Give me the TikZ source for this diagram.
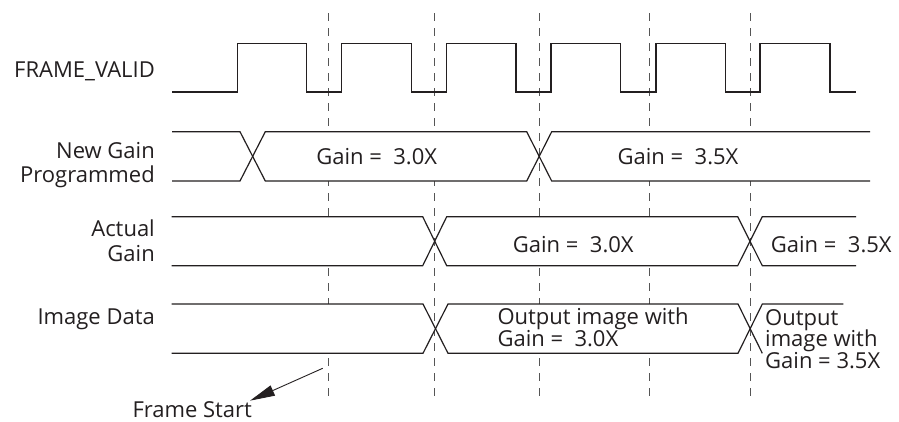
\documentclass[tikz,border=0pt]{standalone}
\usepackage{fontspec}
\setmainfont{Open Sans}
\usetikzlibrary{arrows.meta}
\definecolor{ink}{HTML}{231F20}
\definecolor{dash}{HTML}{555555}
\begin{document}
\begin{tikzpicture}[x=1pt,y=-1pt,
  sig/.style={draw=ink,line width=1.2pt,line join=miter},
  busfill/.style={fill=white,draw=none},
  grid/.style={draw=dash,line width=0.9pt,dash pattern=on 8pt off 7pt},
  lbl/.style={inner sep=0pt,font=\fontsize{22}{26}\selectfont,text=ink}]
\useasboundingbox (0,0) rectangle (899,421);
% dashed frame markers
\foreach \x/\n in {328.3/a,434.7/b,539/c,649.3/d,750/e}{
  \coordinate (t\n) at (\x,13.3);
  \coordinate (b\n) at (\x,399);
  \draw[grid] (t\n) -- (b\n);
}
% FRAME_VALID
\draw[sig] (172,92) -- (237.3,92) -- (237.3,43.3) -- (306.7,43.3) -- (306.7,92)
  -- (341.7,92) -- (341.7,43.3) -- (411.7,43.3) -- (411.7,92)
  -- (446.7,92) -- (446.7,43.3) -- (516,43.3) -- (516,92)
  -- (551,92) -- (551,43.3) -- (620.7,43.3) -- (620.7,92)
  -- (656,92) -- (656,43.3) -- (725.3,43.3) -- (725.3,92)
  -- (760,92) -- (760,43.3) -- (830,43.3) -- (830,92) -- (856,92);
% New Gain Programmed bus
\fill[busfill] (252.7,156.35) -- (265.3,131.7) -- (526.7,131.7) -- (539,156.35) -- (526.7,181) -- (265.3,181) -- cycle;
\fill[busfill] (539,156.35) -- (551.7,131.7) -- (870,131.7) -- (870,181) -- (551.7,181) -- cycle;
\draw[sig] (172,131.7) -- (240,131.7) -- (265.3,181) -- (526.7,181) -- (551.7,131.7) -- (870,131.7);
\draw[sig] (172,181) -- (240,181) -- (265.3,131.7) -- (526.7,131.7) -- (551.7,181) -- (870,181);
% Actual Gain bus
\fill[busfill] (171.7,216.7) -- (422.7,216.7) -- (434.7,241.2) -- (422.7,265.7) -- (171.7,265.7) -- cycle;
\fill[busfill] (434.7,241.2) -- (446.7,216.7) -- (737.7,216.7) -- (750,241.2) -- (737.7,265.7) -- (446.7,265.7) -- cycle;
\fill[busfill] (750,241.2) -- (762.3,216.7) -- (856,216.7) -- (856,265.7) -- (762.3,265.7) -- cycle;
\draw[sig] (171.7,216.7) -- (422.7,216.7) -- (446.7,265.7) -- (737.7,265.7) -- (762.3,216.7) -- (856,216.7);
\draw[sig] (171.7,265.7) -- (422.7,265.7) -- (446.7,216.7) -- (737.7,216.7) -- (762.3,265.7) -- (856,265.7);
% Image Data bus
\fill[busfill] (171.7,304) -- (423,304) -- (435.5,328.65) -- (423,353.3) -- (171.7,353.3) -- cycle;
\fill[busfill] (435.5,328.65) -- (448,304) -- (738,304) -- (750,328.65) -- (738,353.3) -- (448,353.3) -- cycle;
\fill[busfill] (750,328.65) -- (762.3,304) -- (843.3,304) -- (843.3,353.3) -- (762.3,353.3) -- cycle;
\draw[sig] (171.7,304) -- (423,304) -- (448,353.3) -- (738,353.3) -- (762.3,304) -- (843.3,304);
\draw[sig] (171.7,353.3) -- (423,353.3) -- (448,304) -- (738,304) -- (762.3,353.3);
% signal labels
\node[lbl,anchor=base east] (fv) at (155,77.3) {FRAME\_VALID};
\node[lbl,anchor=base east] (ng1) at (155,158.3) {New Gain};
\node[lbl,anchor=base east] (ng2) at (155,182.3) {Programmed};
\node[lbl,anchor=base east] (ag1) at (155,236) {Actual};
\node[lbl,anchor=base east] (ag2) at (155,261) {Gain};
\node[lbl,anchor=base east] (id) at (155,324.3) {Image Data};
% bus values
\node[lbl,anchor=base] (g1) at (376.7,164.3) {Gain =\ \ 3.0X};
\node[lbl,anchor=base] (g2) at (678,164.3) {Gain =\ \ 3.5X};
\node[lbl,anchor=base west] (g3) at (512.7,252.7) {Gain =\ \ 3.0X};
\node[lbl,anchor=base west] (g4) at (770.7,252.7) {Gain =\ \ 3.5X};
\node[lbl,anchor=base west] (o1a) at (497.3,324.3) {Output image with};
\node[lbl,anchor=base west] (o1b) at (497.3,346.7) {Gain =\ \ 3.0X};
\node[lbl,anchor=base west] (o2a) at (765,325) {Output};
\node[lbl,anchor=base west] (o2b) at (765,346.7) {image with};
\node[lbl,anchor=base west] (o2c) at (765,368.3) {Gain = 3.5X};
% Frame start annotation
\node[lbl,anchor=base west] (fs) at (132.3,417.5) {Frame Start};
\coordinate (fsfrom) at (322.7,368.3);
\coordinate (fstip) at (250,400.7);
\draw[draw=ink,line width=0.9pt,-{Triangle[length=25pt,width=11pt]}] (fsfrom) -- (fstip);
\end{tikzpicture}
\end{document}
